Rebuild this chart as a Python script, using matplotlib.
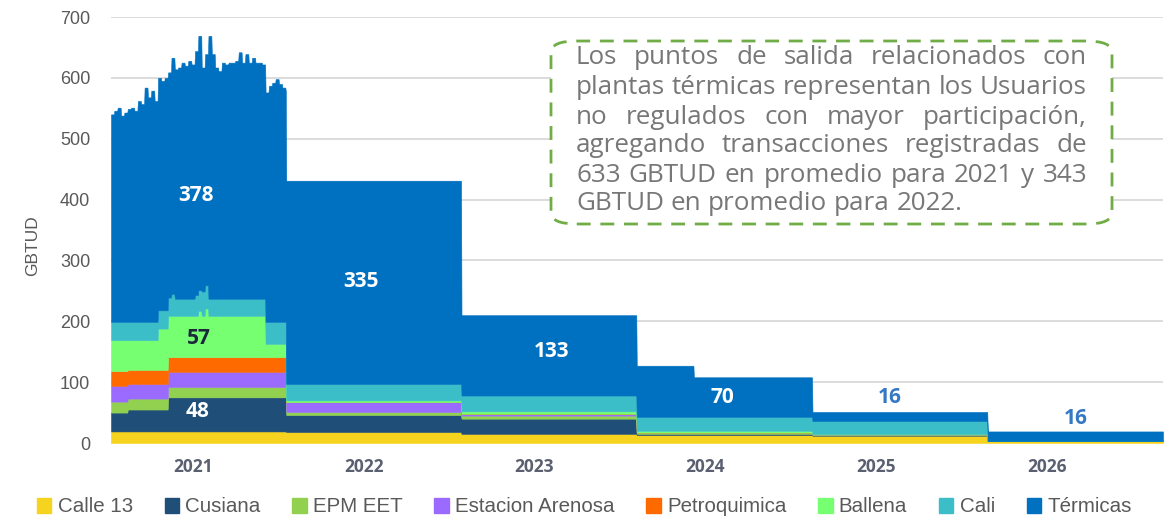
"""
Usuarios no regulados por punto de salida, 2021-2026 (GBTUD).
Stacked step areas, one layer per punto de salida.
"""

import matplotlib
matplotlib.use("Agg")
import matplotlib.pyplot as plt
from matplotlib import font_manager
from matplotlib.patches import FancyBboxPatch, Patch
import pandas as pd


def pick_font(*names):
    have = {f.name for f in font_manager.fontManager.ttflist}
    for name in names:
        if name in have:
            return name
    return "DejaVu Sans"


AXIS_FONT = pick_font("Liberation Sans", "Open Sans")
LEGEND_FONT = pick_font("Liberation Sans Narrow", "Liberation Sans")
BODY_FONT = pick_font("Open Sans", "Lato", "Roboto")
BOLD_FONT = pick_font("Open Sans", "Roboto", "Lato")

# ---------------------------------------------------------------- data
series = ["Calle 13", "Cusiana", "EPM EET", "Estacion Arenosa",
          "Petroquimica", "Ballena", "Cali", "Térmicas"]
colors = ["#f6d31e", "#1f4e78", "#92d050", "#9b6bff",
          "#ff6a00", "#77ff72", "#3cbec8", "#0070c0"]

# 2021 is read week by week, later years by step
weeks_2021 = pd.date_range("2021-01-01", periods=53, freq="7D")
later_starts = pd.to_datetime(["2022-01-01", "2023-01-01", "2024-01-01",
                               "2024-04-29", "2025-01-01", "2026-01-01"])
end_date = pd.Timestamp("2027-01-01")

calle13_2021 = [19] * 53
cusiana_2021 = [31] * 5 + [36] * 12 + [56] * 36
epm_2021 = [18] * 17 + [17] * 36
arenosa_2021 = [26] * 5 + [24] * 12 + [25] * 36
petroquimica_2021 = [24] * 5 + [23] * 12 + [24] * 36
ballena_2021 = ([51] * 5 + [49] * 9 + [68] * 4 + [68] * 8 + [76, 68, 80]
                + [68] * 17 + [22] * 7)
cali_2021 = ([30] * 18 + [36] + [28] * 6 + [34, 34, 40, 38]
             + [28] * 17 + [36] * 7)
termicas_2021 = [341, 347, 352, 339, 344, 350, 352, 347, 363, 358,
                 385, 369, 380, 363, 382, 377, 382, 370, 388, 377,
                 380, 388, 383, 391, 385, 401, 418, 368, 380, 432,
                 402, 380, 374, 388, 385, 388, 388, 391, 405, 388,
                 402, 388, 396, 388, 388, 385, 377, 388, 393, 399,
                 391, 385, 380]

calle13_later = [18, 15, 13, 13, 12, 3]
cusiana_later = [28, 25, 2, 2, 1, 0]
epm_later = [5, 5, 1, 1, 1, 0]
arenosa_later = [16, 3, 1, 1, 1, 0]
petroquimica_later = [0, 0, 0, 0, 0, 0]
ballena_later = [3, 4, 3, 3, 0, 0]
cali_later = [27, 26, 23, 23, 21, 0]
termicas_later = [334, 132, 84, 65, 15, 16]

labels_txt = ["378", "57", "48", "335", "133", "70", "16", "16"]
labels_day = [177, 183, 181, 520, 918, 1274, 1622, 2009]
labels_val = [407, 172, 52, 266, 151, 74, 74, 41]
labels_col = ["white", "#1b2a3a", "white", "white", "white", "white",
              "#3579c4", "#3579c4"]

year_labels = ["2021", "2022", "2023", "2024", "2025", "2026"]
year_tick_day = [171, 527, 881, 1237, 1593, 1949]

note_lines = [
    "Los puntos de salida relacionados con",
    "plantas térmicas representan los Usuarios",
    "no regulados con mayor participación,",
    "agregando transacciones registradas de",
    "633 GBTUD en promedio para 2021 y 343",
    "GBTUD en promedio para 2022.",
]

# ---------------------------------------------------------------- daily frame
starts = weeks_2021.append(later_starts)
days = pd.date_range(starts[0], end_date, freq="D")
per_series = [
    (calle13_2021, calle13_later), (cusiana_2021, cusiana_later),
    (epm_2021, epm_later), (arenosa_2021, arenosa_later),
    (petroquimica_2021, petroquimica_later), (ballena_2021, ballena_later),
    (cali_2021, cali_later), (termicas_2021, termicas_later),
]
layers = []
for v21, vl in per_series:
    s = pd.Series(list(v21) + list(vl), index=starts)
    layers.append(s.reindex(days, method="ffill").to_numpy(dtype=float))

# ---------------------------------------------------------------- figure
W, H = 1171, 518
fig = plt.figure(figsize=(W / 100, H / 100), dpi=100)
ax = fig.add_axes([111 / W, 1 - 443 / H, 1052 / W, 426 / H])

polys = ax.stackplot(days, *layers, colors=colors, linewidth=0)
for p, c in zip(polys, colors):
    p.set_edgecolor(c)
    p.set_linewidth(0.4)

ax.set_xlim(days[0], end_date)
ax.set_ylim(0, 700)
ax.set_yticks(range(0, 701, 100))
ax.grid(axis="y", color="#d9d9d9", linewidth=1.3)
ax.set_axisbelow(True)
for sp in ax.spines.values():
    sp.set_visible(False)

ax.tick_params(axis="y", length=0, pad=15, labelsize=13, labelcolor="#595959")
for t in ax.get_yticklabels():
    t.set_fontfamily(AXIS_FONT)

ax.set_xticks(days[0] + pd.to_timedelta(year_tick_day, unit="D"))
ax.set_xticklabels(year_labels, fontsize=12.5, fontweight="bold",
                   color="#5b6070", family=BOLD_FONT)
ax.tick_params(axis="x", length=0, pad=11)

fig.text(33 / W, 1 - 246 / H, "GBTUD", rotation=90, ha="center", va="center",
         fontsize=12.5, color="#595959", family=AXIS_FONT)

# value labels on the areas
for txt, d, v, c in zip(labels_txt, labels_day, labels_val, labels_col):
    ax.text(days[0] + pd.Timedelta(days=d), v, txt, ha="center", va="center",
            fontsize=15, fontweight="bold", color=c, family=BOLD_FONT)

# legend
handles = [Patch(facecolor=c, edgecolor=c) for c in colors]
fig.legend(handles, series, loc="center", bbox_to_anchor=(0.499, 1 - 507 / H),
           ncol=8, frameon=False, handlelength=0.7, handleheight=0.7,
           handletextpad=0.3, columnspacing=1.55,
           prop={"family": LEGEND_FONT, "size": 14.8}, labelcolor="#595959")

# note box with justified text
box = FancyBboxPatch((551 / W, 1 - 224 / H), (1112 - 551) / W, (224 - 41) / H,
                     boxstyle="round,pad=0,rounding_size=0.022",
                     transform=fig.transFigure, facecolor="white",
                     edgecolor="#70ad47", linewidth=2, linestyle=(0, (5, 3.5)))
fig.add_artist(box)

renderer = fig.canvas.get_renderer()
left, right = 576, 1087
probe = fig.text(0, 0, note_lines[1], fontsize=10, family=BODY_FONT)
fs = 10 * (right - left) / probe.get_window_extent(renderer).width
probe.remove()

line_y = [58, 88, 117, 146, 175, 204]
for i, (line, y) in enumerate(zip(note_lines, line_y)):
    words = line.split()
    objs = [fig.text(0, 1 - y / H, w, fontsize=fs, family=BODY_FONT,
                     color="#777777", va="center", ha="left") for w in words]
    widths = [o.get_window_extent(renderer).width for o in objs]
    if i < len(note_lines) - 1 and len(words) > 1:
        gap = (right - left - sum(widths)) / (len(words) - 1)
    else:
        space = fig.text(0, 0, "a a", fontsize=fs, family=BODY_FONT)
        aa = fig.text(0, 0, "aa", fontsize=fs, family=BODY_FONT)
        gap = (space.get_window_extent(renderer).width
               - aa.get_window_extent(renderer).width)
        space.remove()
        aa.remove()
    x = left
    for o, w in zip(objs, widths):
        o.set_x(x / W)
        x += w + gap

fig.savefig("out.png", dpi=100)
plt.close(fig)
